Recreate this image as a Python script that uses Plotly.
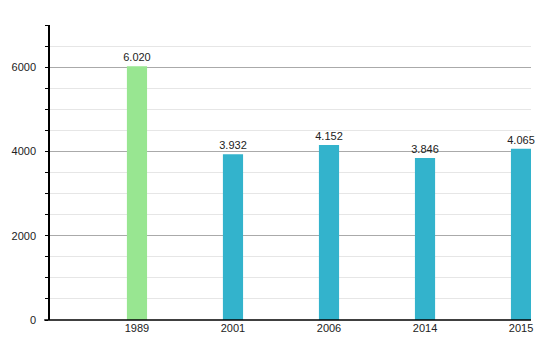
import plotly.graph_objects as go

years = ["1989", "2001", "2006", "2014", "2015"]
values = [6020, 3932, 4152, 3846, 4065]
labels = ["6.020", "3.932", "4.152", "3.846", "4.065"]
colors = ["#98e691", "#33b3cc", "#33b3cc", "#33b3cc", "#33b3cc"]

fig = go.Figure(go.Bar(
    x=years, y=values, text=labels, textposition="outside",
    constraintext="none",
    marker=dict(color=colors, line=dict(width=0)),
    width=0.21, cliponaxis=False,
    textfont=dict(size=11, color="#222222", family="Liberation Sans, Arial"),
))

fig.update_layout(
    width=550, height=350,
    margin=dict(l=50, r=19, t=25, b=30),
    plot_bgcolor="white", paper_bgcolor="white",
    font=dict(family="Liberation Sans, Arial", size=11, color="#222222"),
    showlegend=False,
    uniformtext=dict(minsize=11, mode="show"),
    xaxis=dict(
        type="category", range=[-0.906, 4.104], showgrid=False,
        showline=False, ticks="", tickfont=dict(size=11),
    ),
    yaxis=dict(
        range=[0, 7000], dtick=2000, tick0=0,
        showgrid=True, gridcolor="#aaaaaa", gridwidth=1,
        showline=True, linecolor="#000000", linewidth=1.5,
        ticks="outside", ticklen=3, tickcolor="#000000",
        ticklabelstandoff=7, zeroline=False,
        minor=dict(dtick=500, showgrid=True, gridcolor="#e6e6e6",
                   ticks="outside", ticklen=3, tickcolor="#000000"),
    ),
    shapes=[dict(type="line", xref="paper", yref="paper",
                 x0=-0.012, x1=1.0, y0=0, y1=0,
                 line=dict(color="#000000", width=1.5))],
)

fig.write_html("out.html")
